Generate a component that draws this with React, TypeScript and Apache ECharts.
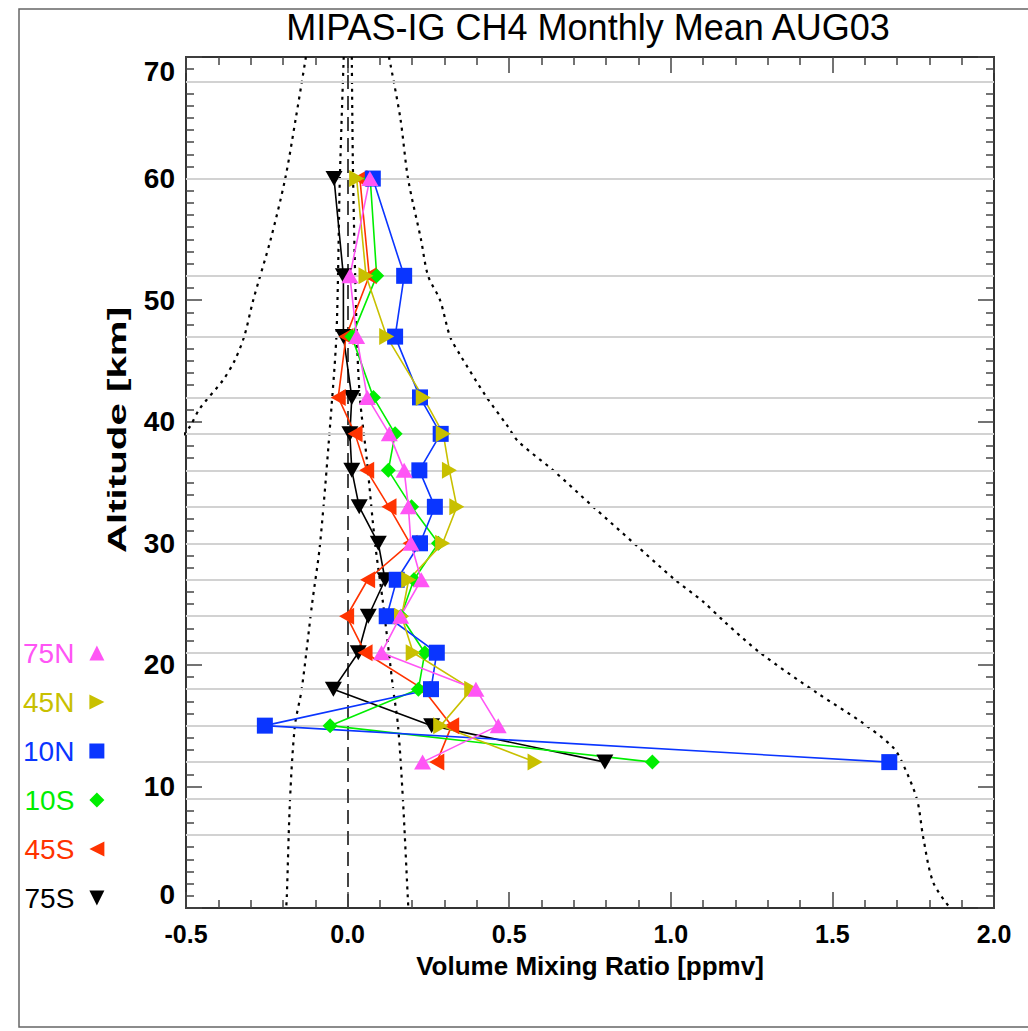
import React, { useEffect, useRef } from "react";
import * as echarts from "echarts";

// ---- data ----
const altitudes = [60, 52, 47, 42, 39, 36, 33, 30, 27, 24, 21, 18, 15, 12];
const v75N = [0.069, 0.007, 0.028, 0.061, 0.129, 0.175, 0.188, 0.196, 0.228, 0.164, 0.105, 0.397, 0.466, 0.232];
const v45N = [0.028, 0.057, 0.121, 0.234, 0.296, 0.315, 0.338, 0.294, 0.189, 0.167, 0.203, 0.384, 0.288, 0.58];
const v10N = [0.078, 0.175, 0.147, 0.224, 0.288, 0.222, 0.27, 0.224, 0.152, 0.121, 0.276, 0.258, -0.256, 1.676];
const v10S = [0.07, 0.09, 0.013, 0.08, 0.147, 0.126, 0.198, 0.281, 0.205, 0.165, 0.239, 0.219, -0.054, 0.943];
const v45S = [0.038, 0.067, -0.005, -0.029, 0.023, 0.059, 0.128, 0.193, 0.062, -0.003, 0.054, 0.234, 0.322, 0.276];
const v75S = [-0.042, -0.013, -0.013, 0.013, 0.007, 0.013, 0.036, 0.095, 0.116, 0.064, 0.033, -0.044, 0.26, 0.796];

// dotted envelope curves [x, altitude]
const outerRight = [
  [0.128, 70], [0.163, 65], [0.187, 60], [0.227, 55], [0.249, 52], [0.286, 50], [0.317, 47],
  [0.348, 45.5], [0.428, 42.1], [0.496, 39.6], [0.527, 38.4], [0.636, 36], [0.76, 33],
  [0.886, 30], [1.013, 27], [1.1, 25.2], [1.168, 23.5], [1.276, 21], [1.452, 17.7],
  [1.595, 15.2], [1.688, 13.2], [1.719, 11.8], [1.762, 8.9], [1.781, 5.8], [1.812, 2.1], [1.864, 0],
];
const outerLeft = [
  [-0.129, 70], [-0.16, 65], [-0.193, 60], [-0.238, 55], [-0.292, 50], [-0.32, 47],
  [-0.35, 45], [-0.386, 43.4], [-0.457, 41.1], [-0.488, 39.6], [-0.52, 38.5],
];
const innerLeft = [
  [-0.012, 70], [-0.024, 60], [-0.034, 47.5], [-0.049, 41.5], [-0.085, 30], [-0.11, 25],
  [-0.142, 18], [-0.163, 15], [-0.178, 9], [-0.188, 1], [-0.19, 0],
];
const innerRight = [
  [0.013, 70], [0.017, 60], [0.028, 47.5], [0.038, 42], [0.059, 37], [0.085, 30], [0.11, 25],
  [0.141, 18], [0.156, 15], [0.171, 9], [0.186, 1], [0.188, 0],
];

const gridAltitudes = [6, 9, 12, 15, 18, 21, 24, 27, 30, 33, 36, 39, 42, 47, 52, 60, 68];

const latNames = ["75N", "45N", "10N", "10S", "45S", "75S"];
const latColors = ["#ff55f5", "#c8c000", "#0a35ff", "#00ee00", "#ff3300", "#000000"];
const latSymbols = [
  "triangle",
  "path://M0,0L10,5L0,10Z",
  "rect",
  "diamond",
  "path://M10,0L0,5L10,10Z",
  "path://M0,0L10,0L5,10Z",
];
const latSizes: any[] = [[17, 15], [15, 17], 16, [15, 15], [15, 17], [17, 15]];
const latValues = [v75N, v45N, v10N, v10S, v45S, v75S];

const FONT = "'Liberation Sans', Arial, Helvetica, sans-serif";

export default function App() {
  const ref = useRef<HTMLDivElement>(null);

  useEffect(() => {
    if (!ref.current) return;
    const chart = echarts.init(ref.current, null, { renderer: "svg" });

    const dotted = (data: number[][]) => ({
      type: "line",
      data,
      showSymbol: false,
      symbol: "none",
      smooth: 0.3,
      silent: true,
      z: 2,
      lineStyle: { color: "#000", width: 2.2, type: [3, 5] },
    });

    const latSeries: any[] = [];
    for (let i = latNames.length - 1; i >= 0; i--) {
      latSeries.push({
        type: "line",
        name: latNames[i],
        data: altitudes.map((a, k) => [latValues[i][k], a]),
        symbol: latSymbols[i],
        symbolSize: latSizes[i],
        showAllSymbol: true,
        lineStyle: { color: latColors[i], width: 1.6 },
        itemStyle: { color: latColors[i] },
        z: 5,
      });
    }

    const axisLine = { show: true, onZero: false, lineStyle: { color: "#333", width: 2 } };
    const axisTick = { show: true, inside: true, length: 16, lineStyle: { color: "#444", width: 1.5 } };
    const minorTickStyle = { show: true, length: 8, lineStyle: { color: "#444", width: 1.5 } };

    const option: any = {
      animation: false,
      title: {
        text: "MIPAS-IG CH4 Monthly Mean AUG03",
        left: 588,
        top: 9,
        textAlign: "center",
        padding: 0,
        textStyle: { fontSize: 36, fontWeight: "normal", fontFamily: FONT, color: "#000" },
      },
      grid: { left: 186, top: 57, width: 808, height: 851, outerBoundsMode: "none" },
      legend: {
        orient: "vertical",
        left: 18,
        top: 634,
        align: "right",
        itemGap: 21,
        itemWidth: 15,
        itemHeight: 15,
        selectedMode: false,
        textStyle: { fontSize: 28, fontFamily: FONT, padding: [0, 10, 0, 0] },
        data: latNames.map((n, i) => ({
          name: n,
          icon: latSymbols[i],
          textStyle: { color: latColors[i] },
        })),
      },
      xAxis: [
        {
          type: "value",
          position: "bottom",
          min: -0.5,
          max: 2.0,
          interval: 0.5,
          minorTick: { ...minorTickStyle, splitNumber: 5 },
          axisLine,
          axisTick,
          splitLine: { show: false },
          axisLabel: {
            margin: 13,
            fontSize: 25,
            fontWeight: "bold",
            fontFamily: FONT,
            color: "#000",
            formatter: (v: number) => v.toFixed(1),
          },
          name: "Volume Mixing Ratio [ppmv]",
          nameLocation: "middle",
          nameGap: 45,
          nameTextStyle: { fontSize: 26, fontWeight: "bold", fontFamily: FONT, color: "#000" },
        },
        {
          type: "value",
          position: "top",
          min: -0.5,
          max: 2.0,
          interval: 0.5,
          minorTick: { ...minorTickStyle, splitNumber: 5 },
          axisLine,
          axisTick,
          splitLine: { show: false },
          axisLabel: { show: false },
        },
      ],
      yAxis: [
        {
          type: "value",
          position: "left",
          min: 0,
          max: 70,
          interval: 10,
          minorTick: { ...minorTickStyle, splitNumber: 10 },
          axisLine,
          axisTick,
          splitLine: { show: false },
          axisLabel: {
            margin: 11,
            fontSize: 28,
            fontWeight: "bold",
            fontFamily: FONT,
            color: "#000",
            verticalAlignMaxLabel: "top",
            verticalAlignMinLabel: "bottom",
          },
        },
        {
          type: "value",
          position: "right",
          min: 0,
          max: 70,
          interval: 10,
          minorTick: { ...minorTickStyle, splitNumber: 10 },
          axisLine,
          axisTick,
          splitLine: { show: false },
          axisLabel: { show: false },
        },
      ],
      graphic: [
        {
          type: "rect",
          silent: true,
          z: -10,
          shape: { x: 19, y: 9, width: 1020, height: 1018 },
          style: { fill: "none", stroke: "#666", lineWidth: 1.5 },
        },
        {
          type: "text",
          x: 117,
          y: 430,
          rotation: Math.PI / 2,
          scaleX: 1.55,
          style: {
            text: "Altitude [km]",
            font: `bold 26px ${FONT}`,
            fill: "#000",
            align: "center",
            verticalAlign: "middle",
          },
        },
      ],
      series: [
        {
          type: "line",
          data: [],
          silent: true,
          z: 1,
          markLine: {
            silent: true,
            symbol: "none",
            label: { show: false },
            lineStyle: { color: "#d2d2d2", width: 2, type: "solid" },
            data: gridAltitudes.map((a) => ({ yAxis: a })),
          },
        },
        {
          type: "line",
          data: [],
          silent: true,
          z: 2,
          markLine: {
            silent: true,
            symbol: "none",
            label: { show: false },
            lineStyle: { color: "#444", width: 2, type: [14, 7] },
            data: [{ xAxis: 0 }],
          },
        },
        dotted(outerRight),
        dotted(outerLeft),
        dotted(innerLeft),
        dotted(innerRight),
        ...latSeries,
      ],
    };

    chart.setOption(option);
    return () => chart.dispose();
  }, []);

  return (
    <div
      ref={ref}
      style={{ position: "absolute", left: 0, top: 0, width: 1028, height: 1031, background: "#fff" }}
    />
  );
}
